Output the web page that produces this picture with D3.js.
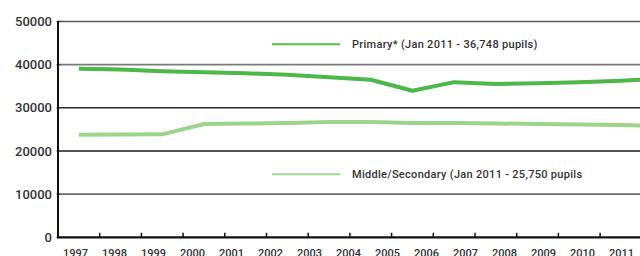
<!DOCTYPE html>
<html>
<head>
<meta charset="utf-8">
<script src="https://cdn.jsdelivr.net/npm/d3@7"></script>
<style>
  html, body { margin: 0; padding: 0; background: #fff; overflow: hidden; }
  svg { display: block; }
  text { font-family: Roboto, "DejaVu Sans", sans-serif; font-weight: 500; fill: #333; }
</style>
</head>
<body>
<svg id="chart" width="640" height="256"></svg>
<script>
// ---- data ----
const years = [1997, 1998, 1999, 2000, 2001, 2002, 2003, 2004, 2005, 2006, 2007, 2008, 2009, 2010, 2011];
const primary = [39050, 38850, 38500, 38250, 38000, 37650, 37100, 36500, 33950, 35950, 35500, 35700, 35950, 36300, 36748];
const secondary = [23780, 23800, 23850, 26250, 26350, 26480, 26700, 26720, 26500, 26480, 26380, 26250, 26120, 26000, 25750];
const yTicks = [0, 10000, 20000, 30000, 40000, 50000];
const seriesNames = ["Primary* (Jan 2011 - 36,748 pupils)", "Middle/Secondary (Jan 2011 - 25,750 pupils"];

// ---- layout ----
const svg = d3.select("#chart");
const left = 58, step = 41.7;
const x = d3.scaleBand().domain(years).range([left, left + step * years.length]).paddingInner(0).paddingOuter(0);
const xLabel = d3.scalePoint().domain(years).range([75, 621]);
const y = d3.scaleLinear().domain([0, 50000]).range([237.3, 21.5]);
const right = 640;

// gridlines
const gridColors = { 0: "#000", 10000: "#6e6e6e", 20000: "#1a1a1a", 30000: "#2a2a2a", 40000: "#7a7a7a", 50000: "#5a5a5a" };
const gridW = { 0: 1, 10000: 1.6, 20000: 1.6, 30000: 1.6, 40000: 1.8, 50000: 1.6 };
svg.append("g").selectAll("line").data(yTicks.filter(d => d > 0)).join("line")
  .attr("x1", left).attr("x2", right)
  .attr("y1", d => y(d)).attr("y2", d => y(d))
  .attr("stroke", d => gridColors[d]).attr("stroke-width", d => gridW[d]);

// y axis labels
const yAxis = d3.axisLeft(y).tickValues(yTicks).tickSize(0).tickPadding(0).tickFormat(d3.format("d"));
const gy = svg.append("g").attr("transform", `translate(52,0)`).call(yAxis);
gy.select(".domain").remove();
gy.selectAll("text").attr("font-size", 13).attr("dy", "0.32em").attr("fill", "#333")
  .style("font-family", "Roboto, sans-serif").style("font-weight", 500);

// purple small ticks
svg.append("g").selectAll("line").data(yTicks).join("line")
  .attr("x1", left - 1.5).attr("x2", left + 2.5)
  .attr("y1", d => y(d)).attr("y2", d => y(d))
  .attr("stroke", "#6b3a8c").attr("stroke-width", 1.4);

// axes lines
svg.append("line").attr("x1", left).attr("x2", left).attr("y1", y(50000) - 0.5).attr("y2", y(0) + 1)
  .attr("stroke", "#111").attr("stroke-width", 2);
svg.append("line").attr("x1", left - 1).attr("x2", right).attr("y1", y(0)).attr("y2", y(0))
  .attr("stroke", "#111").attr("stroke-width", 2.2);

// x tick marks at band boundaries (pointing up)
svg.append("g").selectAll("line").data(years).join("line")
  .attr("x1", d => x(d) + x.bandwidth()).attr("x2", d => x(d) + x.bandwidth())
  .attr("y1", y(0)).attr("y2", y(0) - 4.5)
  .attr("stroke", "#111").attr("stroke-width", 1.5);

// x labels
const xAxis = d3.axisBottom(xLabel).tickSize(0).tickPadding(0).tickFormat(d3.format("d"));
const gx = svg.append("g").attr("transform", `translate(0,256.5)`).call(xAxis);
gx.select(".domain").remove();
gx.selectAll("text").attr("font-size", 11).attr("dy", 0).attr("y", 0).attr("fill", "#333")
  .style("font-family", "Roboto, sans-serif").style("font-weight", 500);

// lines
const line = d3.line().x((d, i) => x(years[i]) + x.bandwidth() / 2).y(d => y(d));
svg.append("path").datum(secondary).attr("d", line).attr("fill", "none")
  .attr("stroke", "#9dd48c").attr("stroke-width", 4).attr("stroke-linejoin", "round");
svg.append("path").datum(primary).attr("d", line).attr("fill", "none")
  .attr("stroke", "#4cb847").attr("stroke-width", 4).attr("stroke-linejoin", "round");

// legends
const legend = [
  { name: seriesNames[0], color: "#56bd4b", y: 44.3 },
  { name: seriesNames[1], color: "#a3d896", y: 174.3 }
];
legend.forEach(l => {
  svg.append("line").attr("x1", 272).attr("x2", 340).attr("y1", l.y).attr("y2", l.y)
    .attr("stroke", l.color).attr("stroke-width", 2);
  svg.append("text").attr("x", 352).attr("y", l.y + 3.9).attr("font-size", 11)
    .attr("letter-spacing", "0.3px").attr("fill", "#333").text(l.name);
});
</script>
</body>
</html>
